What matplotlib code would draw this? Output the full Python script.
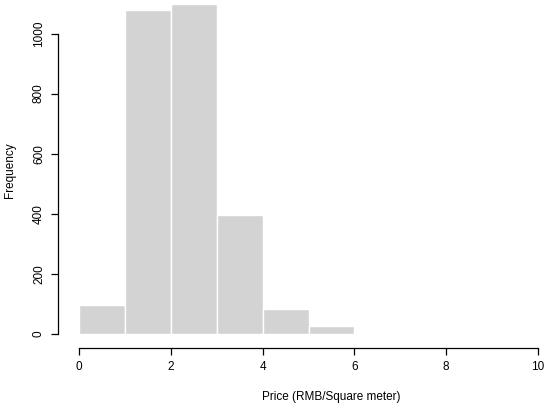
import matplotlib
matplotlib.use("Agg")
import matplotlib.pyplot as plt
import numpy as np

# histogram bins (RMB / square meter) and counts
bin_edges = [0, 1, 2, 3, 4, 5, 6, 7]
counts = [96, 1078, 1100, 396, 82, 25, 3]
x_ticks = [0, 2, 4, 6, 8, 10]
y_ticks = [0, 200, 400, 600, 800, 1000]

plt.rcParams['font.family'] = ['Liberation Sans', 'DejaVu Sans']

W, H = 550, 408
fig = plt.figure(figsize=(W / 100, H / 100), dpi=100)
# axes placed so that x 0..10 -> px 79..538 and y 0 -> px 333.7
ax = fig.add_axes([79 / W, (H - 333.7) / H, 459 / W, 333.2 / H])

lefts = np.array(bin_edges[:-1])
widths = np.diff(bin_edges)
ax.bar(lefts, counts, width=widths, align='edge', color='#d3d3d3',
       edgecolor='white', linewidth=1.0)

ax.set_xlim(0, 10)
ax.set_ylim(0, 1110)

for s in ['top', 'right']:
    ax.spines[s].set_visible(False)
ax.spines['left'].set_position(('outward', 15))
ax.spines['bottom'].set_position(('outward', 10.3))
ax.spines['left'].set_bounds(0, 1000)
ax.spines['bottom'].set_bounds(0, 10)
for s in ['left', 'bottom']:
    ax.spines[s].set_linewidth(0.9)

ax.set_xticks(x_ticks)
ax.set_yticks(y_ticks)
ax.set_yticklabels([str(v) for v in y_ticks], rotation=90, va='center')
ax.tick_params(axis='both', length=5, width=0.9, labelsize=8.5, pad=4.5)

fig.text(331 / W, 1 - 397 / H, 'Price (RMB/Square meter)', ha='center',
         va='center', fontsize=8.5)
fig.text(10 / W, 1 - 170 / H, 'Frequency', ha='center', va='center',
         rotation=90, fontsize=8.5)

fig.savefig('out.png', dpi=100)
